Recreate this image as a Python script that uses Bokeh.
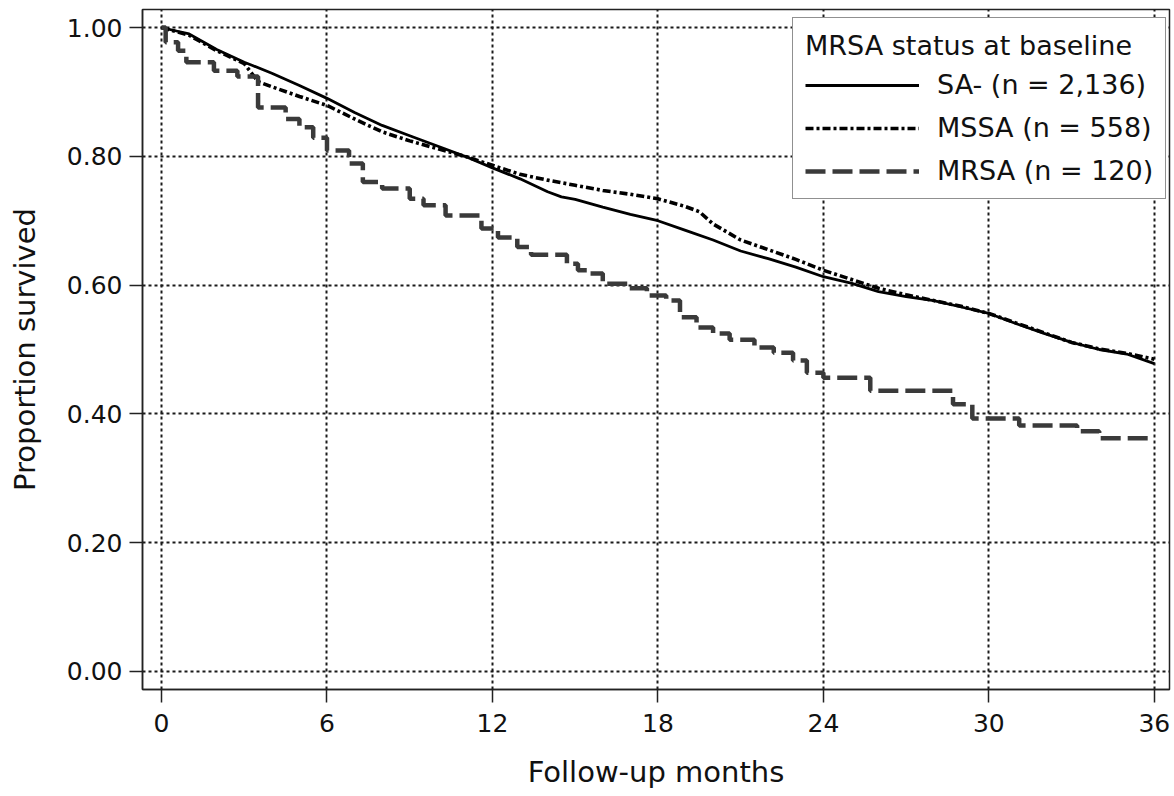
from bokeh.plotting import figure
from bokeh.models import FixedTicker, NumeralTickFormatter, Legend, LegendItem, Range1d
from bokeh.embed import file_html
from bokeh.resources import INLINE

# ---- data ----
x_ticks = [0, 6, 12, 18, 24, 30, 36]
y_ticks = [0.0, 0.2, 0.4, 0.6, 0.8, 1.0]

sa_months = [0, 0.5, 1, 2, 3, 3.3, 4, 5, 6, 7, 8, 9, 10, 11, 12, 13, 14, 14.5, 15, 16, 17, 18,
             19, 20, 21, 22, 23, 24, 25, 26, 27, 28, 29, 30, 31, 32, 33, 34, 35, 36]
sa_surv = [1.000, 0.995, 0.990, 0.966, 0.946, 0.941, 0.929, 0.910, 0.890, 0.868, 0.848, 0.832,
           0.816, 0.800, 0.782, 0.765, 0.745, 0.737, 0.733, 0.721, 0.710, 0.700, 0.685, 0.670,
           0.653, 0.641, 0.628, 0.613, 0.603, 0.590, 0.582, 0.576, 0.566, 0.556, 0.540, 0.525,
           0.511, 0.500, 0.493, 0.478]

mssa_months = [0, 0.5, 1, 2, 3, 3.5, 4, 5, 6, 7, 8, 9, 10, 11, 12, 13, 14, 15, 16, 17, 18,
               19, 19.5, 20, 21, 22, 23, 24, 25, 26, 27, 28, 29, 30, 31, 32, 33, 34, 35, 36]
mssa_surv = [1.000, 0.994, 0.988, 0.964, 0.944, 0.916, 0.908, 0.893, 0.879, 0.858, 0.838, 0.824,
             0.812, 0.800, 0.786, 0.772, 0.763, 0.755, 0.747, 0.741, 0.734, 0.722, 0.714, 0.695,
             0.670, 0.655, 0.640, 0.623, 0.609, 0.595, 0.585, 0.576, 0.567, 0.556, 0.541, 0.526,
             0.511, 0.501, 0.494, 0.485]

mrsa_months = [0, 0.15, 0.6, 0.9, 1.9, 2.75, 3.5, 4.5, 5.0, 5.5, 6.0, 6.8, 7.3, 8.0, 9.0, 9.5,
               10.3, 11.6, 12.2, 12.9, 13.4, 14.7, 15.1, 15.5, 16.0, 16.9, 17.6, 18.3, 18.8,
               19.4, 20.0, 20.6, 21.5, 22.2, 22.9, 23.4, 24.0, 25.7, 28.7, 29.4, 31.1, 33.2,
               34.0, 36.0]
mrsa_surv = [1.000, 0.977, 0.964, 0.946, 0.933, 0.924, 0.876, 0.858, 0.845, 0.829, 0.809, 0.789,
             0.760, 0.750, 0.734, 0.724, 0.708, 0.688, 0.674, 0.659, 0.647, 0.633, 0.623, 0.618,
             0.602, 0.595, 0.584, 0.576, 0.550, 0.534, 0.525, 0.515, 0.503, 0.495, 0.483, 0.464,
             0.456, 0.436, 0.415, 0.393, 0.382, 0.373, 0.362, 0.362]

labels = ["SA- (n = 2,136)", "MSSA (n = 558)", "MRSA (n = 120)"]
legend_title = "MRSA status at baseline"

FONT = "DejaVu Sans"

p = figure(width=1174, height=796, output_backend="svg", toolbar_location=None,
           x_range=Range1d(-0.69, 36.55), y_range=Range1d(-0.028, 1.028),
           min_border_left=142, min_border_right=5, min_border_top=9, min_border_bottom=107,
           x_axis_label="Follow-up months", y_axis_label="Proportion survived")
p.background_fill_color = "white"
p.border_fill_color = "white"
p.outline_line_color = "#222222"
p.outline_line_width = 1.5

for ax in (p.xaxis[0], p.yaxis[0]):
    ax.axis_line_color = "#222222"
    ax.axis_line_width = 1.5
    ax.major_tick_line_color = "#222222"
    ax.major_tick_line_width = 1.5
    ax.major_tick_out = 13
    ax.major_tick_in = 0
    ax.minor_tick_line_color = None
    ax.major_label_text_font = FONT
    ax.major_label_text_font_size = "25px"
    ax.major_label_text_color = "#111111"
    ax.axis_label_text_font = FONT
    ax.axis_label_text_font_size = "29px"
    ax.axis_label_text_font_style = "normal"
    ax.axis_label_text_color = "#111111"

p.xaxis.ticker = FixedTicker(ticks=x_ticks)
p.yaxis.ticker = FixedTicker(ticks=y_ticks)
p.yaxis.formatter = NumeralTickFormatter(format="0.00")
p.xaxis.major_label_standoff = 11
p.yaxis.major_label_standoff = 7
p.xaxis.axis_label_standoff = 20
p.yaxis.axis_label_standoff = 22

for g in (p.xgrid[0], p.ygrid[0]):
    g.grid_line_color = "#1a1a1a"
    g.grid_line_width = 2
    g.grid_line_dash = "3 3"
p.xgrid.ticker = FixedTicker(ticks=x_ticks)
p.ygrid.ticker = FixedTicker(ticks=y_ticks)

r1 = p.line(sa_months, sa_surv, line_color="black", line_width=2.8)
r2 = p.line(mssa_months, mssa_surv, line_color="black", line_width=3.6, line_dash="8 3 3 3")
r3 = p.step(mrsa_months, mrsa_surv, mode="after", line_color="#3a3a3a", line_width=4.5,
            line_dash="20 7")

legend = Legend(items=[LegendItem(label=labels[0], renderers=[r1]),
                       LegendItem(label=labels[1], renderers=[r2]),
                       LegendItem(label=labels[2], renderers=[r3])],
                title=legend_title, location=(650, 490))
legend.title_text_font = FONT
legend.title_text_font_size = "27px"
legend.title_text_font_style = "normal"
legend.title_text_color = "#111111"
legend.title_standoff = 8
legend.label_text_font = FONT
legend.label_text_font_size = "27px"
legend.label_text_color = "#111111"
legend.glyph_width = 114
legend.glyph_height = 30
legend.label_height = 30
legend.label_standoff = 18
legend.spacing = 12
legend.padding = 12
legend.margin = 0
legend.border_line_color = "#222222"
legend.border_line_width = 1.5
legend.background_fill_color = "white"
legend.background_fill_alpha = 1.0
p.add_layout(legend)

open("out.html", "w").write(file_html(p, INLINE))
